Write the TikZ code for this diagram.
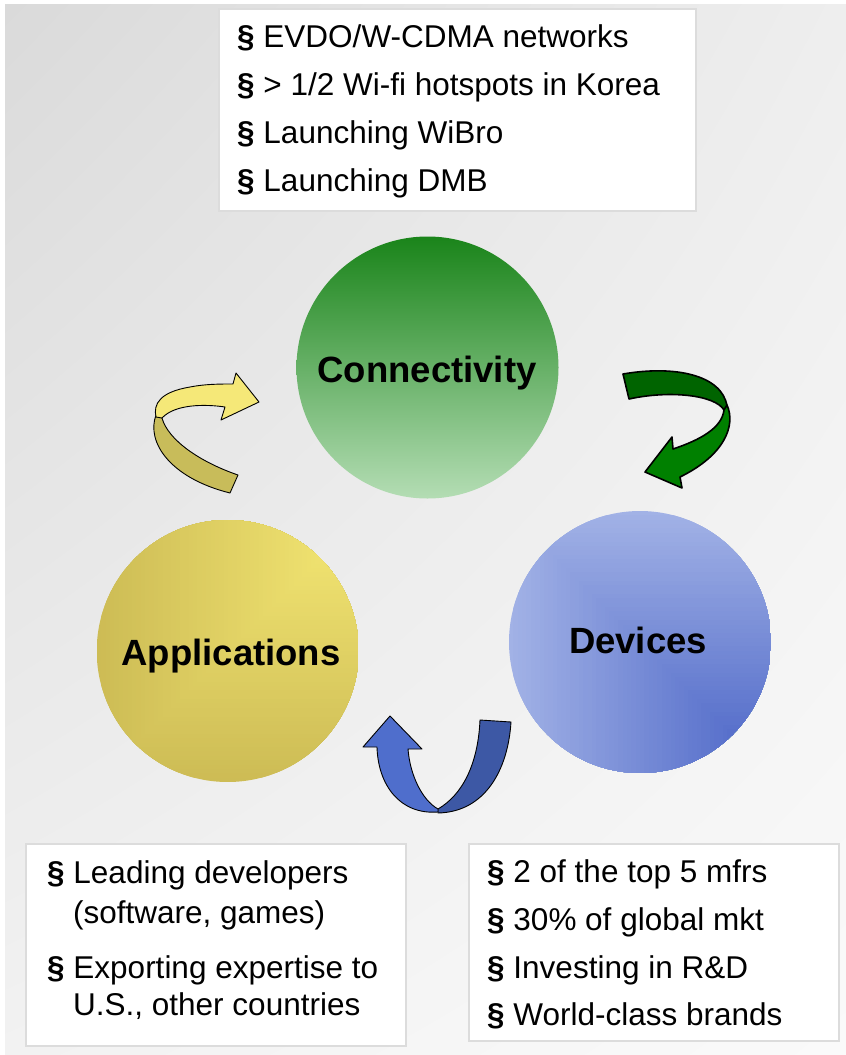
\documentclass[tikz,border=0pt]{standalone}
\usepackage{fontspec}
\setmainfont{Liberation Sans}
\usetikzlibrary{shadings}
\definecolor{bgA}{HTML}{DADADA}
\definecolor{bgB}{HTML}{EEEEEE}
\definecolor{bgC}{HTML}{F2F2F2}
\definecolor{bgD}{HTML}{FAFAFA}
\definecolor{boxgray}{HTML}{DCDCDC}
\definecolor{conTop}{HTML}{1A841A}
\definecolor{conBot}{HTML}{B4DDB4}
\definecolor{devL}{HTML}{A2B2E6}
\definecolor{devD}{HTML}{4A64C6}
\definecolor{appL}{HTML}{F5E874}
\definecolor{appD}{HTML}{CDBC55}
\definecolor{yelFront}{HTML}{F5E878}
\definecolor{yelBack}{HTML}{C8BC5A}
\definecolor{grnBack}{HTML}{006400}
\definecolor{grnFront}{HTML}{008000}
\definecolor{bluFront}{HTML}{4F6ECC}
\definecolor{bluBack}{HTML}{3D58A5}
\begin{document}
\begin{tikzpicture}[x=1pt,y=-1pt,
  box/.style={draw=boxgray, line width=2pt, fill=white, inner sep=0pt, anchor=north west},
  txt/.style={anchor=base west, inner sep=0pt, font=\fontsize{31.5}{38}\selectfont},
  lbl/.style={anchor=base, inner sep=0pt, font=\fontsize{36.5}{44}\selectfont\bfseries},
  disc/.style={circle, minimum size=262pt, inner sep=0pt},
  ribbon/.style={draw=black, line width=0.9pt, line join=round}]
\useasboundingbox (0,0) rectangle (846,1055);
\shade[upper left=bgA, upper right=bgB, lower left=bgC, lower right=bgD] (5,4) rectangle (846,1055);

% text boxes
\node[box, minimum width=477pt, minimum height=202pt] (topbox) at (218,8) {};
\node[box, minimum width=380pt, minimum height=202pt] (appbox) at (25,843) {};
\node[box, minimum width=370pt, minimum height=197pt] (devbox) at (468,843) {};

\node[txt] (t1) at (237,47)  {\textbf{§} EVDO/W-CDMA networks};
\node[txt] (t2) at (237,95)  {\textbf{§} > 1/2 Wi-fi hotspots in Korea};
\node[txt] (t3) at (237,143) {\textbf{§} Launching WiBro};
\node[txt] (t4) at (237,191) {\textbf{§} Launching DMB};

\node[txt] (a1) at (47,883)  {\textbf{§} Leading developers};
\node[txt] (a2) at (73,923)  {(software, games)};
\node[txt] (a3) at (47,978)  {\textbf{§} Exporting expertise to};
\node[txt] (a4) at (73,1015) {U.S., other countries};

\node[txt] (d1) at (487,882)  {\textbf{§} 2 of the top 5 mfrs};
\node[txt] (d2) at (487,930)  {\textbf{§} 30\% of global mkt};
\node[txt] (d3) at (487,978)  {\textbf{§} Investing in R\&D};
\node[txt] (d4) at (487,1025) {\textbf{§} World-class brands};

% circles
\node[disc, top color=conTop, bottom color=conBot] (con) at (427.5,367.5) {};
\node[disc] (dev) at (640,642) {};
\node[disc] (app) at (227.7,651) {};
\begin{scope}
  \clip (dev.center) circle[radius=131pt];
  \foreach \i in {0,...,59}{
    \pgfmathsetmacro{\s}{262*(1-\i/60)}
    \pgfmathtruncatemacro{\p}{100*(1-\i/60)}
    \fill[devL!\p!devD] (771,773) rectangle ++(-\s,-\s);
  }
\end{scope}
\begin{scope}
  \clip (app.center) circle[radius=131pt];
  \foreach \i in {0,...,59}{
    \pgfmathsetmacro{\s}{262*(1-\i/60)}
    \pgfmathtruncatemacro{\p}{100*(\i/60)}
    \fill[appL!\p!appD] (359,520) rectangle ++(-\s,\s);
  }
\end{scope}

\node[lbl] (conlbl) at (427,382) {Connectivity};
\node[lbl] (devlbl) at (638,653) {Devices};
\node[lbl] (applbl) at (231,665) {Applications};

% yellow arrow (applications -> connectivity)
\filldraw[ribbon, fill=yelBack] (156,415) .. controls (146,442) and (170,478) .. (230,493)
  -- (238,475) .. controls (200,462) and (168,440) .. (162,418) -- cycle;
\filldraw[ribbon, fill=yelFront] (156,417) .. controls (153,404) and (160,392) .. (190,387)
  .. controls (205,384) and (220,384) .. (233,384) -- (236,373) -- (259,402) -- (221,420)
  -- (225,407) .. controls (205,404) and (175,404) .. (162,418) -- cycle;

% green arrow (connectivity -> devices)
\filldraw[ribbon, line width=1.6pt, fill=grnBack] (623,374) .. controls (675,365) and (722,375) .. (727,406)
  -- (724,410) .. controls (715,395) and (670,390) .. (629,399) -- cycle;
\filldraw[ribbon, line width=1.6pt, fill=grnFront] (727,405) .. controls (736,425) and (725,455) .. (680,477)
  -- (682,488) -- (645,472) -- (672,437) -- (673,449)
  .. controls (700,440) and (722,428) .. (724,410) -- cycle;

% blue arrow (devices -> applications)
\filldraw[ribbon, fill=bluBack] (480,720) -- (511,722) .. controls (508,770) and (485,812) .. (438,813)
  -- (438,809) .. controls (462,795) and (478,765) .. (480,720) -- cycle;
\filldraw[ribbon, fill=bluFront] (438,812) .. controls (400,815) and (378,785) .. (377,747)
  -- (363,747) -- (390,716) -- (422,749) -- (408,749)
  .. controls (410,775) and (422,800) .. (438,809) -- cycle;
\end{tikzpicture}
\end{document}
